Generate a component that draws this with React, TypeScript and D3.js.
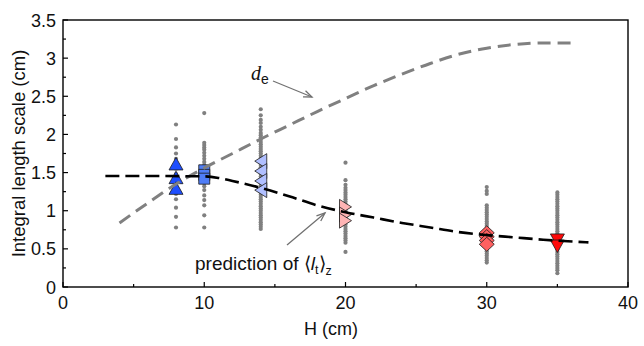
import React from "react";
import * as d3 from "d3";

const W = 644;
const H = 346;

const xTicks = [0, 10, 20, 30, 40];
const yTicks = [0, 0.5, 1, 1.5, 2, 2.5, 3, 3.5];
const yTickLabels = ["0", "0.5", "1", "1.5", "2", "2.5", "3", "3.5"];

// d_e curve (gray dashed)
const deH = [4, 6, 8, 10, 12, 14, 16, 18, 20, 22, 24, 26, 28, 30, 32, 34, 36.3];
const deV = [0.84, 1.1, 1.35, 1.56, 1.75, 1.94, 2.12, 2.3, 2.47, 2.64, 2.79, 2.93, 3.05, 3.13, 3.18, 3.2, 3.2];

// prediction curve (black dashed)
const predH = [3, 6, 9, 10, 11, 12, 14, 16, 18, 20, 22, 24, 26, 28, 30, 32, 34, 37.2];
const predV = [1.455, 1.455, 1.452, 1.45, 1.43, 1.39, 1.3, 1.19, 1.07, 0.98, 0.91, 0.84, 0.78, 0.72, 0.68, 0.65, 0.62, 0.585];

// gray scatter samples per H
const dots8 = [2.13, 1.94, 1.83, 1.75, 1.68, 1.62, 1.55, 1.48, 1.42, 1.36, 1.3, 1.22, 1.15, 1.04, 0.92, 0.78];
const dots10 = [2.28, 1.89, 1.86, 1.83, 1.8, 1.76, 1.72, 1.68, 1.64, 1.6, 1.56, 1.52, 1.48, 1.44, 1.4, 1.36, 1.32, 1.27, 1.2, 1.14, 1.07, 0.94, 0.78];
const dots14 = [2.33, 2.25, 2.19, 2.15, 2.1, 2.06, 2.02, 1.99, 1.96, 1.93, 1.9, 1.87, 1.84, 1.81, 1.78, 1.75, 1.72, 1.69, 1.66, 1.63, 1.6, 1.57, 1.54, 1.51, 1.48, 1.45, 1.42, 1.39, 1.36, 1.33, 1.3, 1.27, 1.24, 1.21, 1.18, 1.15, 1.12, 1.09, 1.06, 1.03, 1.0, 0.97, 0.94, 0.91, 0.88, 0.85, 0.82, 0.79, 0.76];
const dots20 = [1.63, 1.4, 1.34, 1.3, 1.27, 1.24, 1.21, 1.18, 1.15, 1.12, 1.09, 1.06, 1.03, 1.0, 0.97, 0.94, 0.91, 0.88, 0.85, 0.82, 0.79, 0.76, 0.73, 0.7, 0.67, 0.64, 0.61, 0.58, 0.46];
const dots30 = [1.31, 1.26, 1.22, 1.07, 1.04, 1.01, 0.98, 0.95, 0.92, 0.89, 0.86, 0.83, 0.8, 0.77, 0.74, 0.71, 0.68, 0.65, 0.62, 0.59, 0.56, 0.53, 0.5, 0.47, 0.44, 0.41, 0.38, 0.35, 0.32];
const dots35 = [1.24, 1.21, 1.18, 1.15, 1.12, 1.09, 1.06, 1.03, 1.0, 0.97, 0.94, 0.91, 0.88, 0.85, 0.82, 0.79, 0.76, 0.73, 0.7, 0.67, 0.64, 0.61, 0.58, 0.55, 0.52, 0.49, 0.46, 0.43, 0.4, 0.37, 0.34, 0.31, 0.28, 0.25, 0.22, 0.18];

// mean markers
const mk8 = [1.6, 1.42, 1.28];
const mk10 = [1.53, 1.47, 1.42];
const mk14 = [1.65, 1.52, 1.39, 1.27];
const mk20 = [1.05, 0.95, 0.87];
const mk30 = [0.71, 0.66, 0.61, 0.56];
const mk35 = [0.63, 0.55];

const x = d3.scaleLinear().domain([0, 40]).range([63, 628]);
const y = d3.scaleLinear().domain([0, 3.5]).range([287, 20]);

const FONT = "'Liberation Sans', Arial, sans-serif";

const shapes: Record<string, string> = {
  up: "M0,-7.5L7,5L-7,5Z",
  down: "M0,7.5L7,-5L-7,-5Z",
  left: "M-6,0L6,-7.5L6,7.5Z",
  right: "M6,0L-6,-7.5L-6,7.5Z",
  square: "M-5.5,-5.5L5.5,-5.5L5.5,5.5L-5.5,5.5Z",
  diamond: "M0,-7L7.5,0L0,7L-7.5,0Z",
};

const dotGroups: [number, number[]][] = [
  [8, dots8], [10, dots10], [14, dots14], [20, dots20], [30, dots30], [35, dots35],
];

const markerGroups: [number, number[], string, string][] = [
  [8, mk8, "up", "#1f4fff"],
  [10, mk10, "square", "#4f7df7"],
  [14, mk14, "left", "#b0bfff"],
  [20, mk20, "right", "#ffb4b4"],
  [30, mk30, "diamond", "#ff6060"],
  [35, mk35, "down", "#ff0a0a"],
];

function Arrow({ x1, y1, x2, y2 }: { x1: number; y1: number; x2: number; y2: number }) {
  const a = Math.atan2(y2 - y1, x2 - x1);
  const L = 9, sp = 0.38;
  const p1 = [x2 - L * Math.cos(a - sp), y2 - L * Math.sin(a - sp)];
  const p2 = [x2 - L * Math.cos(a + sp), y2 - L * Math.sin(a + sp)];
  return (
    <g stroke="#707070" strokeWidth={1.3} fill="none">
      <line x1={x1} y1={y1} x2={x2} y2={y2} />
      <polyline points={`${p1[0]},${p1[1]} ${x2},${y2} ${p2[0]},${p2[1]}`} />
    </g>
  );
}

export default function App() {
  const line = d3.line<[number, number]>().x(d => x(d[0])).y(d => y(d[1])).curve(d3.curveMonotoneX);
  const dePath = line(deH.map((h, i) => [h, deV[i]]) as [number, number][]) || "";
  const predPath = line(predH.map((h, i) => [h, predV[i]]) as [number, number][]) || "";
  const [x0, x1] = x.range();
  const [y0, y1] = y.range();
  const xMinor = [5, 15, 25, 35];
  const yMinor = [0.25, 0.75, 1.25, 1.75, 2.25, 2.75, 3.25];

  return (
    <svg width={W} height={H} style={{ position: "absolute", left: 0, top: 0, background: "#fff" }} fontFamily={FONT}>
      <rect x={0} y={0} width={W} height={H} fill="#fff" />
      {/* scatter dots */}
      {dotGroups.map(([h, vals]) =>
        vals.map((v, i) => <circle key={`${h}-${i}`} cx={x(h)} cy={y(v)} r={2.1} fill="#808080" />)
      )}
      {/* markers */}
      {markerGroups.map(([h, vals, s, c]) =>
        vals.map((v, i) => (
          <path key={`m${h}-${i}`} d={shapes[s]} transform={`translate(${x(h)},${y(v)})`} fill={c} stroke="#1a1a1a" strokeWidth={0.8} />
        ))
      )}
      {/* curves */}
      <path d={dePath} fill="none" stroke="#808080" strokeWidth={3} strokeDasharray="13 7" />
      <path d={predPath} fill="none" stroke="#000" strokeWidth={2.6} strokeDasharray="14 6" />

      {/* frame */}
      <rect x={x0} y={y1} width={x1 - x0} height={y0 - y1} fill="none" stroke="#000" strokeWidth={1.4} />
      {/* x ticks */}
      {xTicks.map(t => (
        <g key={`xt${t}`}>
          <line x1={x(t)} x2={x(t)} y1={y0} y2={y0 - 5} stroke="#000" strokeWidth={1.2} />
          <text x={x(t)} y={y0 + 22} fontSize={18} textAnchor="middle" fill="#111">{t}</text>
        </g>
      ))}
      {xMinor.map(t => (
        <line key={`xm${t}`} x1={x(t)} x2={x(t)} y1={y0} y2={y0 - 3} stroke="#000" strokeWidth={1.2} />
      ))}
      {yTicks.map((t, i) => (
        <g key={`yt${t}`}>
          <line x1={x0} x2={x0 + 5} y1={y(t)} y2={y(t)} stroke="#000" strokeWidth={1.2} />
          <text x={x0 - 7} y={y(t) + 6.5} fontSize={18} textAnchor="end" fill="#111">{yTickLabels[i]}</text>
        </g>
      ))}
      {yMinor.map(t => (
        <line key={`ym${t}`} x1={x0} x2={x0 + 3} y1={y(t)} y2={y(t)} stroke="#000" strokeWidth={1.2} />
      ))}
      {/* axis titles */}
      <text x={331} y={335} fontSize={18} textAnchor="middle" fill="#111">H (cm)</text>
      <text transform={`translate(25,${(y0 + y1) / 2}) rotate(-90)`} fontSize={18.5} textAnchor="middle" fill="#111">
        Integral length scale (cm)
      </text>

      {/* annotations */}
      <text x={251} y={80} fontSize={20} fill="#111">
        <tspan fontFamily="'Liberation Serif', 'Times New Roman', serif" fontStyle="italic">d</tspan>
        <tspan fontSize={14} dy={4}>e</tspan>
      </text>
      <Arrow x1={273} y1={81} x2={312} y2={97} />
      <text x={195} y={270} fontSize={19} fill="#111">
        <tspan>prediction of ⟨</tspan>
        <tspan fontStyle="italic">l</tspan>
        <tspan fontSize={12.5} dy={4}>t</tspan>
        <tspan dy={-4}>⟩</tspan>
        <tspan fontSize={12.5} dy={5}>z</tspan>
      </text>
      <Arrow x1={287} y1={245} x2={325} y2={213} />
    </svg>
  );
}
